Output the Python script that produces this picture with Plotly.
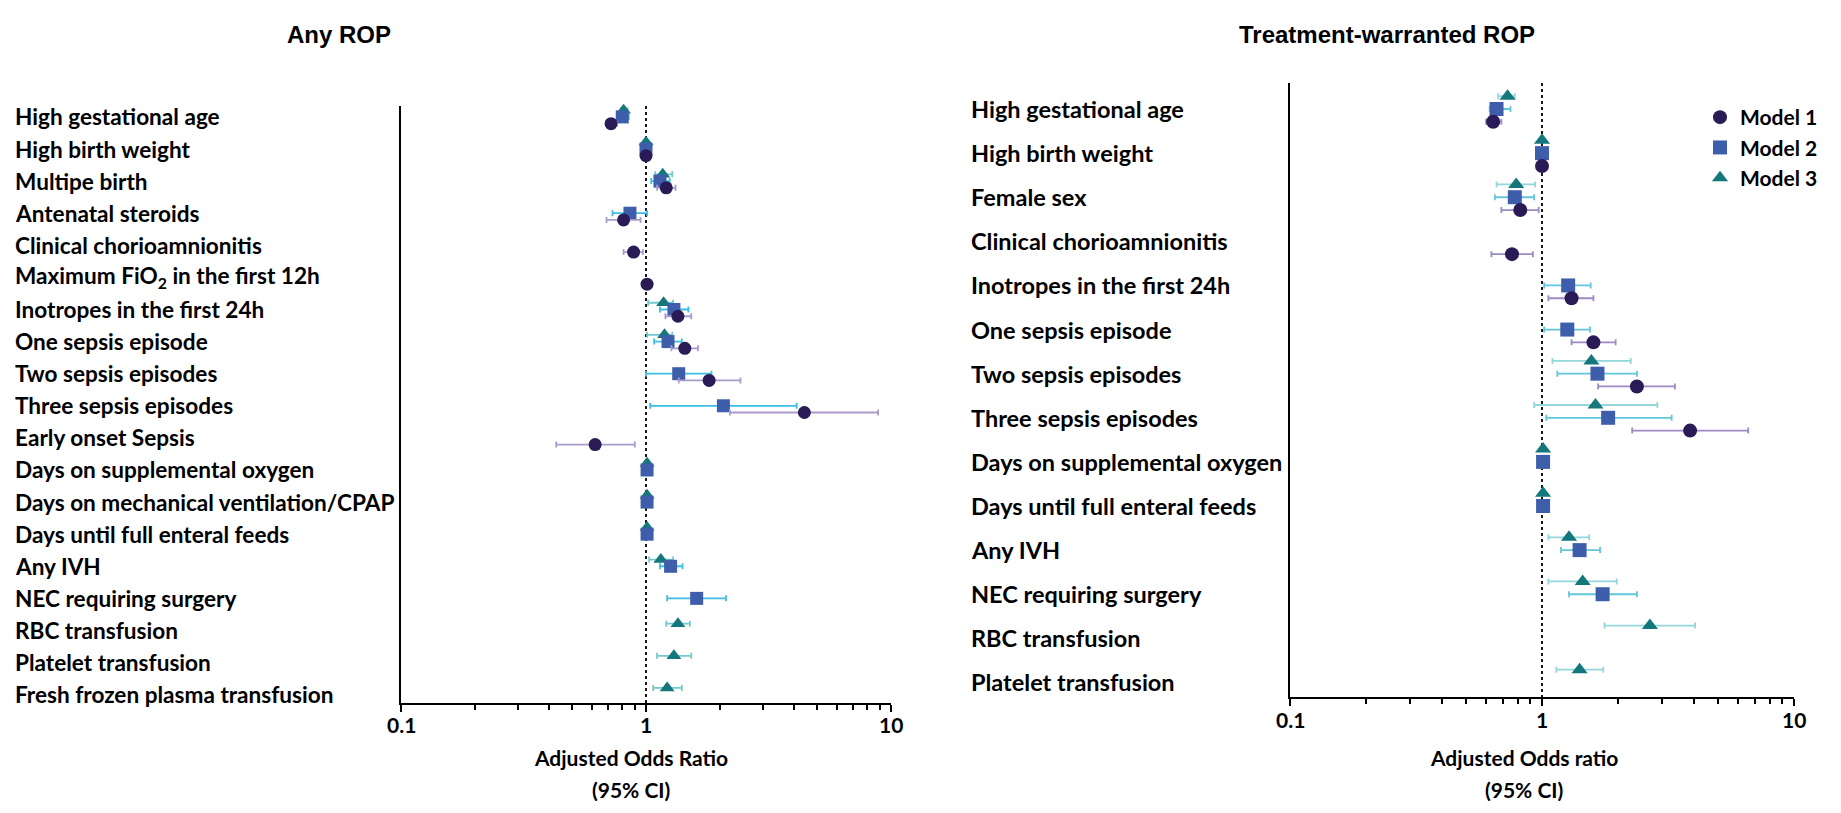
import math
import plotly.graph_objects as go

# ---------------- Data: Any ROP ----------------
cats_any = ["High gestational age", "High birth weight", "Multipe birth", "Antenatal steroids",
            "Clinical chorioamnionitis", "Maximum FiO<sub>2</sub> in the first 12h",
            "Inotropes in the first 24h", "One sepsis episode", "Two sepsis episodes",
            "Three sepsis episodes", "Early onset Sepsis", "Days on supplemental oxygen",
            "Days on mechanical ventilation/CPAP", "Days until full enteral feeds", "Any IVH",
            "NEC requiring surgery", "RBC transfusion", "Platelet transfusion",
            "Fresh frozen plasma transfusion"]
N = None
any_m1_or = [0.72, 1.00, 1.21, 0.81, 0.89, 1.01, 1.35, 1.44, 1.81, 4.43, 0.62, N, N, N, N, N, N, N, N]
any_m1_lo = [0.69, 0.99, 1.11, 0.69, 0.81, 1.00, 1.20, 1.27, 1.36, 2.20, 0.43, N, N, N, N, N, N, N, N]
any_m1_hi = [0.76, 1.01, 1.32, 0.95, 0.97, 1.02, 1.53, 1.63, 2.43, 8.86, 0.90, N, N, N, N, N, N, N, N]

any_m2_or = [0.80, 1.00, 1.14, 0.86, N, N, 1.30, 1.23, 1.36, 2.07, N, 1.01, 1.01, 1.01, 1.26, 1.61, N, N, N]
any_m2_lo = [0.76, 0.99, 1.05, 0.73, N, N, 1.14, 1.08, 1.00, 1.04, N, 1.00, 1.00, 1.00, 1.14, 1.22, N, N, N]
any_m2_hi = [0.85, 1.01, 1.25, 1.01, N, N, 1.49, 1.40, 1.85, 4.12, N, 1.02, 1.02, 1.02, 1.41, 2.12, N, N, N]

any_m3_or = [0.81, 1.00, 1.17, N, N, N, 1.18, 1.19, N, N, N, 1.01, 1.01, 1.01, 1.15, N, 1.35, 1.30, 1.22]
any_m3_lo = [0.79, 0.99, 1.09, N, N, N, 1.02, 1.01, N, N, N, 1.00, 1.00, 1.00, 1.03, N, 1.21, 1.11, 1.07]
any_m3_hi = [0.84, 1.01, 1.28, N, N, N, 1.29, 1.28, N, N, N, 1.02, 1.02, 1.02, 1.29, N, 1.51, 1.53, 1.40]

# ---------------- Data: Treatment-warranted ROP ----------------
cats_tw = ["High gestational age", "High birth weight", "Female sex", "Clinical chorioamnionitis",
           "Inotropes in the first 24h", "One sepsis episode", "Two sepsis episodes",
           "Three sepsis episodes", "Days on supplemental oxygen", "Days until full enteral feeds",
           "Any IVH", "NEC requiring surgery", "RBC transfusion", "Platelet transfusion"]
tw_m1_or = [0.64, 1.00, 0.82, 0.76, 1.31, 1.60, 2.38, 3.87, N, N, N, N, N, N]
tw_m1_lo = [0.60, 0.99, 0.69, 0.63, 1.06, 1.31, 1.67, 2.28, N, N, N, N, N, N]
tw_m1_hi = [0.69, 1.01, 0.97, 0.92, 1.60, 1.96, 3.37, 6.58, N, N, N, N, N, N]

tw_m2_or = [0.66, 1.00, 0.78, N, 1.27, 1.26, 1.66, 1.83, 1.01, 1.01, 1.41, 1.74, N, N]
tw_m2_lo = [0.62, 0.99, 0.65, N, 1.02, 1.02, 1.15, 1.04, 1.00, 1.00, 1.19, 1.28, N, N]
tw_m2_hi = [0.75, 1.01, 0.93, N, 1.56, 1.55, 2.38, 3.27, 1.02, 1.02, 1.70, 2.38, N, N]

tw_m3_or = [0.73, 1.00, 0.79, N, N, N, 1.57, 1.63, 1.01, 1.01, 1.28, 1.45, 2.68, 1.41]
tw_m3_lo = [0.67, 0.99, 0.66, N, N, N, 1.10, 0.93, 1.00, 1.00, 1.06, 1.06, 1.77, 1.14]
tw_m3_hi = [0.78, 1.01, 0.94, N, N, N, 2.25, 2.87, 1.02, 1.02, 1.54, 1.98, 4.05, 1.75]

x_tickvals = [0.1, 1, 10]
x_ticktext = ["0.1", "1", "10"]
x_minor = [0.2, 0.3, 0.4, 0.5, 0.6, 0.7, 0.8, 0.9, 2, 3, 4, 5, 6, 7, 8, 9]

# ---------------- Layout helpers ----------------
# The page body has an 8px margin, so the figure is sized to fit the window without scrollbars
OFF = 8
W, H = 1841 - 2 * OFF, 813 - 2 * OFF


def PX(px):
    return (px - OFF) / W


def PY(py):
    return 1 - (py - OFF) / H


LABEL_FONT = "Lato, 'Open Sans', sans-serif"
TITLE_FONT = "'Liberation Sans', Arial, sans-serif"

M1 = dict(name="Model 1", symbol="circle", color="#2a1b56", rank=1)
M2 = dict(name="Model 2", symbol="square", color="#3e5eab", rank=2)
M3 = dict(name="Model 3", symbol="triangle-up", color="#14777b", rank=3)

fig = go.Figure()


def add_model(orv, lo, hi, off, style, ecolor, xa, ya, size, showlegend):
    xs, ys, ep, em = [], [], [], []
    for i, (o, l, h) in enumerate(zip(orv, lo, hi)):
        if o is None:
            continue
        xs.append(o)
        ys.append(i + off)
        ep.append(h - o)
        em.append(o - l)
    fig.add_trace(go.Scatter(
        x=xs, y=ys, mode="markers", name=style["name"], legendrank=style["rank"],
        marker=dict(symbol=style["symbol"], size=size, color=style["color"], line=dict(width=0)),
        error_x=dict(type="data", symmetric=False, array=ep, arrayminus=em,
                     color=ecolor, thickness=1.8, width=3),
        xaxis=xa, yaxis=ya, showlegend=showlegend, cliponaxis=False))


L_TOP, L_BOT = -0.34, 18.26
R_TOP, R_BOT = -0.59, 13.33

for xa, ya, top, bot in [("x", "y", L_TOP, L_BOT), ("x2", "y2", R_TOP, R_BOT)]:
    fig.add_trace(go.Scatter(x=[1, 1], y=[top, bot], mode="lines",
                             line=dict(color="black", width=1.8, dash="dot"),
                             xaxis=xa, yaxis=ya, showlegend=False, hoverinfo="skip"))

off_l = 0.21
add_model(any_m3_or, any_m3_lo, any_m3_hi, -off_l, M3, "#74c9cc", "x", "y", 13, False)
add_model(any_m2_or, any_m2_lo, any_m2_hi, 0.0, M2, "#3dbde6", "x", "y", 13, False)
add_model(any_m1_or, any_m1_lo, any_m1_hi, off_l, M1, "#a99ccb", "x", "y", 13, False)

off_r = 0.29
add_model(tw_m3_or, tw_m3_lo, tw_m3_hi, -off_r, M3, "#94d6da", "x2", "y2", 14, True)
add_model(tw_m2_or, tw_m2_lo, tw_m2_hi, 0.0, M2, "#62c6dd", "x2", "y2", 14, True)
add_model(tw_m1_or, tw_m1_lo, tw_m1_hi, off_r, M1, "#9d8ac5", "x2", "y2", 14, True)

xaxis_common = dict(
    type="log", range=[-1, 1], showline=True, linewidth=2, linecolor="black",
    ticks="outside", ticklen=7, tickwidth=2, tickcolor="black",
    tickmode="array", tickvals=x_tickvals, ticktext=x_ticktext, showticklabels=False,
    showgrid=False, zeroline=False, mirror=False,
    minor=dict(tickmode="array", tickvals=x_minor, ticks="outside", ticklen=5,
               tickwidth=1.5, tickcolor="black", showgrid=False),
)
yaxis_common = dict(showline=True, linewidth=2, linecolor="black", showticklabels=False,
                    ticks="", showgrid=False, zeroline=False)

fig.update_layout(
    width=W, height=H, margin=dict(l=0, r=0, t=0, b=0, autoexpand=False),
    paper_bgcolor="white", plot_bgcolor="white",
    xaxis=dict(domain=[PX(401), PX(891)], anchor="y", **xaxis_common),
    yaxis=dict(domain=[PY(703), PY(106)], anchor="x", range=[L_BOT, L_TOP], **yaxis_common),
    xaxis2=dict(domain=[PX(1290), PX(1794)], anchor="y2", **xaxis_common),
    yaxis2=dict(domain=[PY(697), PY(83)], anchor="x2", range=[R_BOT, R_TOP], **yaxis_common),
    legend=dict(x=PX(1700), y=PY(97), xanchor="left", yanchor="top",
                font=dict(family=LABEL_FONT, size=21, color="black", weight="bold"),
                bgcolor="rgba(0,0,0,0)", itemwidth=30, tracegroupgap=0),
    showlegend=True,
)

LBL_L = dict(family=LABEL_FONT, size=22.6, color="black", weight="bold")
LBL_R = dict(family=LABEL_FONT, size=23.5, color="black", weight="bold")
ann = []
for i, c in enumerate(cats_any):
    ann.append(dict(text=c, xref="paper", x=PX(13), yref="y", y=i, xanchor="left", yanchor="middle",
                    showarrow=False, font=LBL_L))
for i, c in enumerate(cats_tw):
    ann.append(dict(text=c, xref="paper", x=PX(969), yref="y2", y=i, xanchor="left", yanchor="middle",
                    showarrow=False, font=LBL_R))

# tick labels (log axis annotations take log10 positions)
for xr in ["x", "x2"]:
    bottom = 724 if xr == "x" else 719
    for v, t in zip(x_tickvals, x_ticktext):
        ann.append(dict(text=t, xref=xr, x=math.log10(v), yref="paper", y=PY(bottom),
                        xanchor="center", yanchor="middle", showarrow=False,
                        font=dict(family=LABEL_FONT, size=21, color="black", weight="bold")))

TT = dict(family=TITLE_FONT, size=24, color="black", weight="bold")
ann.append(dict(text="Any ROP", xref="paper", yref="paper", x=PX(339), y=PY(35),
                xanchor="center", yanchor="middle", showarrow=False, font=TT))
ann.append(dict(text="Treatment-warranted ROP", xref="paper", yref="paper", x=PX(1387), y=PY(35),
                xanchor="center", yanchor="middle", showarrow=False, font=TT))

AX = dict(family=LABEL_FONT, size=21, color="black", weight="bold")
for txt, xc in [("Adjusted Odds Ratio", 631), ("Adjusted Odds ratio", 1524)]:
    ann.append(dict(text=txt, xref="paper", yref="paper", x=PX(xc), y=PY(757),
                    xanchor="center", yanchor="middle", showarrow=False, font=AX))
    ann.append(dict(text="(95% CI)", xref="paper", yref="paper", x=PX(xc), y=PY(789),
                    xanchor="center", yanchor="middle", showarrow=False, font=AX))

fig.update_layout(annotations=ann)

fig.write_html("out.html")
